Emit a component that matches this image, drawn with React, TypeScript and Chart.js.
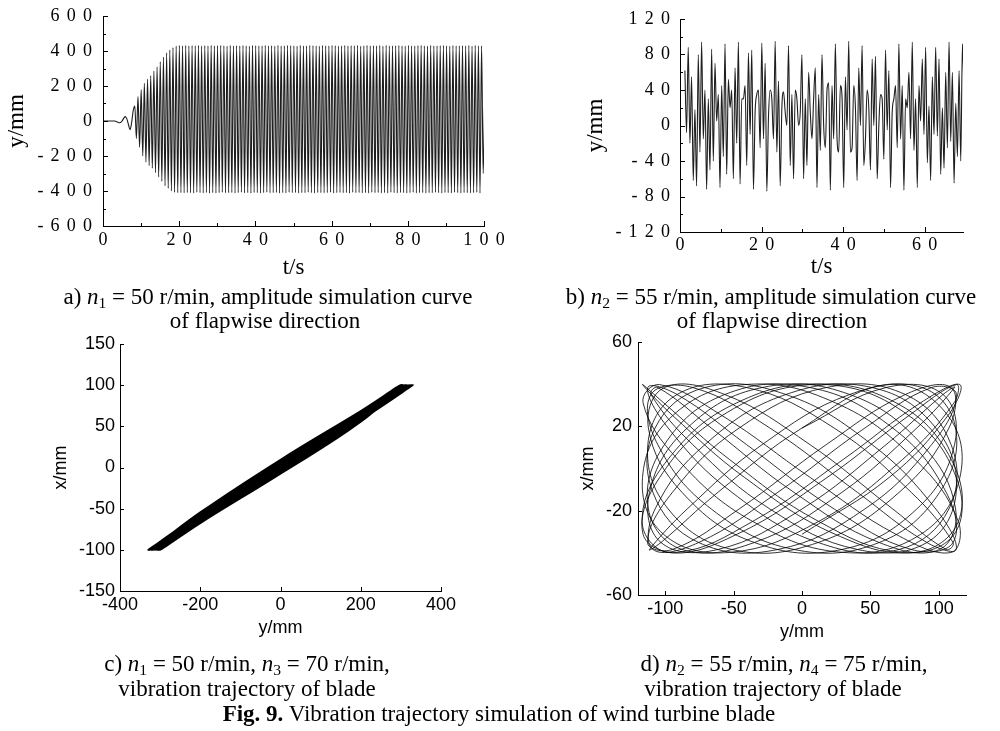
import React, { useEffect, useRef } from 'react';
import { Chart, registerables } from 'chart.js';

Chart.register(...registerables);

// ---------------- data ----------------
// a) flapwise amplitude, n1 = 50 r/min : successive extrema, one every flapATimeStep seconds
const flapATimeStep = 0.4175;
const flapAValues = [
  0, 0, 0, 0, 0, 0, 0, 0, -2, -6,
  -10, -8, 0, 15, 25, 12, -20, -50, -10, 60,
  85, -100, 140, -150, 180, -200, 215, -235, 240, -255,
  260, -270, 285, -295, 310, -320, 340, -345, 365, -370,
  390, -385, 405, -400, 420, -408, 428, -410, 432, -410,
  430, -411, 432, -409, 429, -410, 431, -412, 430, -408,
  433, -410, 428, -411, 431, -409, 430, -413, 432, -410,
  429, -412, 431, -410, 433, -408, 430, -411, 428, -410,
  432, -409, 430, -412, 431, -410, 429, -408, 433, -411,
  430, -410, 428, -413, 432, -409, 431, -410, 430, -412,
  429, -410, 433, -408, 430, -411, 431, -410, 428, -409,
  432, -412, 430, -410, 429, -411, 433, -408, 431, -410,
  430, -409, 428, -412, 432, -410, 430, -411, 429, -408,
  433, -410, 431, -412, 430, -409, 428, -410, 432, -411,
  429, -410, 430, -408, 433, -412, 431, -410, 428, -409,
  430, -411, 432, -410, 429, -413, 431, -408, 430, -410,
  433, -409, 428, -411, 430, -410, 432, -412, 429, -408,
  431, -410, 430, -409, 433, -411, 428, -410, 432, -412,
  430, -408, 429, -410, 431, -411, 433, -409, 430, -410,
  428, -412, 432, -410, 430, -408, 429, -411, 431, -410,
  433, -409, 430, -412, 428, -410, 432, -411, 430, -408,
  429, -410, 431, -412, 433, -409, 430, -410, 428, -411,
  432, -408, 430, -410, 429, -412, 431, -409, 430, -410,
  433, -411, 428, -410, 432, -408, 430, -412, 429, -300,
  150,
];

// b) flapwise amplitude, n2 = 55 r/min
const flapBStart = 1.2;
const flapBTimeStep = 0.41;
const flapBValues = [
  62, -8, 88, -20, 55, -62, 18, -68,
  80, -30, 94, -15, 40, -72, 30, -50,
  86, -40, 70, 5, 35, -70, 45, -35,
  92, -55, 52, 20, 40, -60, 65, -20,
  94, -66, 30, 30, 45, -45, 82, -10,
  85, -72, 15, 35, 40, -25, 93, -15,
  70, -74, 10, 40, 30, -15, 95, -30,
  50, -68, 20, 38, 15, 0, 90, -45,
  35, -60, 40, 30, 0, 15, 80, -60,
  30, -45, 60, 15, -15, 30, 65, -70,
  35, -28, 80, 0, -25, 40, 48, -73,
  45, -15, 92, -15, -30, 45, 32, -70,
  55, -5, 95, -30, -25, 45, 20, -62,
  65, 0, 90, -45, -15, 40, 20, -50,
  75, 0, 78, -60, 0, 35, 30, -38,
  85, -5, 62, -70, 15, 30, 45, -25,
  92, -15, 45, -73, 30, 20, 60, -15,
  94, -28, 30, -70, 45, 5, 75, -10,
  88, -42, 22, -62, 55, -10, 88, -12,
  75, -55, 20, -48, 60, -25, 94, -18,
  60, -65, 25, -35, 62, -40, 92, 35,
];

// c) trajectory n1 = 50, n3 = 70 : horizontal (y/mm) and vertical (x/mm)
const trajCHoriz = [
  -324,
  -200, 0, 200, 302, 200, 0, -200, -302,
  -200, 0, 200, 310, 200, 0, -200, -308,
  -200, 0, 200, 304, 200, 0, -200, -304,
  -200, 0, 200, 318, 200, 0, -200, -316,
  -200, 0, 200, 306, 200, 0, -200, -306,
  -200, 0, 200, 314, 200, 0, -200, -312,
  -200, 0, 200, 300, 200, 0, -200, -300,
  -200, 0, 200, 322, 200, 0, -200, -326,
  -200, 0, 200, 326, 200, 0, -200, -320,
  -200, 0, 200, 312, 200, 0, -200, -330,
  -200, 0, 200, 328, 200, 0, -200, -322,
  -200, 0, 200, 330, 200, 0, -200, -328,
];
const trajCVert = [
  -100,
  -54.4, 9.6, 68.7, 100, 55.7, -7.1, -67.3, -100,
  -57.5, 5.5, 65.5, 100, 59.2, -2.6, -63.8, -100,
  -55.4, 8.2, 67.6, 100, 56.8, -5.8, -66.3, -100,
  -60.3, 1.9, 62.7, 100, 61.3, 0.1, -61.7, -100,
  -56.5, 6.9, 66.6, 100, 57.8, -4.4, -65.2, -100,
  -58.9, 3.7, 64.1, 100, 60.3, -1.3, -62.8, -100,
  -54.7, 9.1, 68.3, 100, 55.4, -7.6, -67.7, -100,
  -61, 1, 62, 100, 58.5, -3.5, -64.5, -100,
  -56.1, 7.3, 66.9, 100, 59.9, -1.7, -63.1, -100,
  -58.2, 4.6, 64.8, 100, 56.4, -6.2, -66.6, -100,
  -59.6, 2.8, 63.4, 100, 57.5, -4.9, -65.6, -100,
  -55, 8.7, 68, 100, 61.7, 0.6, -61.4, -100,
];

// d) trajectory n2 = 55, n4 = 75 : sampled points along the curve
const trajDHoriz = [
  0, 61.5, 103.2, 111.6, 84.0, 29.2, -34.9, -87.8, -112.4, -100.7,
  -56.5, 5.9, 66.4, 105.5, 110.5, 79.9, 23.5, -40.5, -91.4, -112.8,
  -97.9, -51.3, 11.8, 71.1, 107.5, 109.1, 75.6, 17.7, -46.0, -94.8,
  -113, -94.8, -46.0, 17.7, 75.6, 109.1, 107.5, 71.1, 11.8, -51.3,
  -97.9, -112.8, -91.4, -40.5, 23.5, 79.9, 110.5, 105.5, 66.4, 5.9,
  -56.5, -100.7, -112.4, -87.8, -34.9, 29.2, 84.0, 111.6, 103.2, 61.5,
  0, -61.5, -103.2, -111.6, -84.0, -29.2, 34.9, 87.8, 112.4, 100.7,
  56.5, -5.9, -66.4, -105.5, -110.5, -79.9, -23.5, 40.5, 91.4, 112.8,
  97.9, 51.3, -11.8, -71.1, -107.5, -109.1, -75.6, -17.7, 46.0, 94.8,
  113, 94.8, 46.0, -17.7, -75.6, -109.1, -107.5, -71.1, -11.8, 51.3,
  97.9, 112.8, 91.4, 40.5, -23.5, -79.9, -110.5, -105.5, -66.4, -5.9,
  56.5, 100.7, 112.4, 87.8, 34.9, -29.2, -84.0, -111.6, -103.2, -61.5,
  0,
  63.7, 106.8, 115.5, 86.9, 30.2, -36.1, -90.9, -116.3, -104.2, -58.5,
  6.1, 68.7, 109.2, 114.4, 82.7, 24.3, -41.9, -94.6, -116.7, -101.3,
  -53.1, 12.2, 73.6, 111.3, 112.9, 78.2, 18.3, -47.6, -98.1, -117.0,
  -98.1, -47.6, 18.3, 78.2, 112.9, 111.3, 73.6, 12.2, -53.1, -101.3,
  -116.7, -94.6, -41.9, 24.3, 82.7, 114.4, 109.2, 68.7, 6.1, -58.5,
  -104.2, -116.3, -90.9, -36.1, 30.2, 86.9, 115.5, 106.8, 63.7, 0,
];
const trajDVert = [
  19.2, 38.4, 35.1, 11.3, -19.2, -38.4, -35.1, -11.3, 19.2, 38.4,
  35.1, 11.3, -19.2, -38.4, -35.1, -11.3, 19.2, 38.4, 35.1, 11.3,
  -19.2, -38.4, -35.1, -11.3, 19.2, 38.4, 35.1, 11.3, -19.2, -38.4,
  -35.1, -11.3, 19.2, 38.4, 35.1, 11.3, -19.2, -38.4, -35.1, -11.3,
  19.2, 38.4, 35.1, 11.3, -19.2, -38.4, -35.1, -11.3, 19.2, 38.4,
  35.1, 11.3, -19.2, -38.4, -35.1, -11.3, 19.2, 38.4, 35.1, 11.3,
  -19.2, -38.4, -35.1, -11.3, 19.2, 38.4, 35.1, 11.3, -19.2, -38.4,
  -35.1, -11.3, 19.2, 38.4, 35.1, 11.3, -19.2, -38.4, -35.1, -11.3,
  19.2, 38.4, 35.1, 11.3, -19.2, -38.4, -35.1, -11.3, 19.2, 38.4,
  35.1, 11.3, -19.2, -38.4, -35.1, -11.3, 19.2, 38.4, 35.1, 11.3,
  -19.2, -38.4, -35.1, -11.3, 19.2, 38.4, 35.1, 11.3, -19.2, -38.4,
  -35.1, -11.3, 19.2, 38.4, 35.1, 11.3, -19.2, -38.4, -35.1, -11.3,
  19.2,
  39.8, 25.1, -4.3, -31.2, -39.8, -25.1, 4.3, 31.2, 39.8, 25.1,
  -4.3, -31.2, -39.8, -25.1, 4.3, 31.2, 39.8, 25.1, -4.3, -31.2,
  -39.8, -25.1, 4.3, 31.2, 39.8, 25.1, -4.3, -31.2, -39.8, -25.1,
  4.3, 31.2, 39.8, 25.1, -4.3, -31.2, -39.8, -25.1, 4.3, 31.2,
  39.8, 25.1, -4.3, -31.2, -39.8, -25.1, 4.3, 31.2, 39.8, 25.1,
  -4.3, -31.2, -39.8, -25.1, 4.3, 31.2, 39.8, 25.1, -4.3, -31.2,
];

// tick labels / tick marks
const aXTicks = [0, 20, 40, 60, 80, 100];
const aXMinor = [10, 30, 50, 70, 90];
const aYTicks = [-600, -400, -200, 0, 200, 400, 600];
const aYMinor = [-500, -300, -100, 100, 300, 500];
const bXTicks = [0, 20, 40, 60];
const bXMinor = [10, 30, 50];
const bYTicks = [-120, -80, -40, 0, 40, 80, 120];
const bYMinor = [-100, -60, -20, 20, 60, 100];
const cXTicks = [-400, -200, 0, 200, 400];
const cYTicks = [-150, -100, -50, 0, 50, 100, 150];
const dXTicks = [-100, -50, 0, 50, 100];
const dYTicks = [-60, -20, 20, 60];

// ---------------- helpers ----------------
const SERIF = '"Liberation Serif", "Times New Roman", serif';
const SANS = '"Liberation Sans", Arial, sans-serif';

const spaced = (v: number) => String(v).split('').join('\u2009\u2009');
const plain = (v: number) => String(v);

const inwardTicks = {
  id: 'inwardTicks',
  afterDraw(chart: any, _args: any, opts: any) {
    const { ctx, chartArea } = chart;
    const xs = chart.scales.x;
    const ys = chart.scales.y;
    ctx.save();
    ctx.strokeStyle = '#000';
    ctx.lineWidth = 1;
    ctx.beginPath();
    const bottom = Math.round(chartArea.bottom);
    const left = Math.round(chartArea.left);
    const xMarks = (vals: number[], len: number) =>
      vals.forEach((v) => {
        const p = Math.round(xs.getPixelForValue(v)) + 0.5;
        ctx.moveTo(p, bottom);
        ctx.lineTo(p, bottom - len);
      });
    const yMarks = (vals: number[], len: number) =>
      vals.forEach((v) => {
        const p = Math.round(ys.getPixelForValue(v)) + 0.5;
        ctx.moveTo(left, p);
        ctx.lineTo(left + len, p);
      });
    xMarks(opts.xMajor || [], opts.majorLen);
    xMarks(opts.xMinor || [], opts.minorLen);
    yMarks(opts.yMajor || [], opts.majorLen);
    yMarks(opts.yMinor || [], opts.minorLen);
    ctx.stroke();
    ctx.restore();
  },
};

function axis(o: {
  horizontal: boolean;
  min: number;
  max: number;
  ticks: number[];
  size: number;
  tickPad: number;
  fmt: (v: number) => string;
  tickFont: any;
  title: string;
  titleFont: any;
  titlePad: any;
}) {
  return {
    type: 'linear',
    position: o.horizontal ? 'bottom' : 'left',
    min: o.min,
    max: o.max,
    grid: { display: false, drawTicks: false },
    border: { display: true, color: '#000', width: 1 },
    ticks: {
      autoSkip: false,
      maxRotation: 0,
      minRotation: 0,
      padding: o.tickPad,
      color: '#000',
      font: o.tickFont,
      callback: (v: any) => o.fmt(Number(v)),
    },
    title: { display: true, text: o.title, color: '#000', font: o.titleFont, padding: o.titlePad },
    afterBuildTicks: (s: any) => {
      s.ticks = o.ticks.map((v) => ({ value: v }));
    },
    afterFit: (s: any) => {
      if (o.horizontal) s.height = o.size;
      else s.width = o.size;
      s.paddingLeft = 0;
      s.paddingRight = 0;
      s.paddingTop = 0;
      s.paddingBottom = 0;
    },
  };
}

function baseOptions(padding: any, x: any, y: any, ticksOpts: any) {
  return {
    responsive: false,
    animation: false,
    events: [],
    layout: { padding },
    plugins: { legend: { display: false }, tooltip: { enabled: false }, inwardTicks: ticksOpts },
    scales: { x, y },
  };
}

const serifTick = { family: SERIF, size: 18, lineHeight: 1 };
const serifTitle = { family: SERIF, size: 23, lineHeight: 1 };
const sansTick = { family: SANS, size: 18, lineHeight: 1 };
const sansTitle = { family: SANS, size: 18, lineHeight: 1 };

function configA() {
  return {
    type: 'line',
    data: {
      datasets: [
        {
          data: flapAValues.map((v, i) => ({ x: i * flapATimeStep, y: v })),
          borderColor: '#1e1e1e',
          borderWidth: 1.1,
          pointRadius: 0,
          cubicInterpolationMode: 'monotone',
          fill: false,
        },
      ],
    },
    options: baseOptions(
      { left: 0, top: 16, right: 516, bottom: 445 },
      axis({ horizontal: true, min: 0, max: 100, ticks: aXTicks, size: 60, tickPad: 5, fmt: spaced, tickFont: serifTick, title: 't/s', titleFont: serifTitle, titlePad: { top: 0, bottom: 6.5 } }),
      axis({ horizontal: false, min: -600, max: 600, ticks: aYTicks, size: 103, tickPad: 11, fmt: spaced, tickFont: serifTick, title: 'y/mm', titleFont: serifTitle, titlePad: { top: 5.5, bottom: 0 } }),
      { xMajor: aXTicks, xMinor: aXMinor, yMajor: aYTicks, yMinor: aYMinor, majorLen: 5, minorLen: 3 }
    ),
    plugins: [inwardTicks],
  };
}

function configB() {
  return {
    type: 'line',
    data: {
      datasets: [
        {
          data: flapBValues.map((v, i) => ({ x: flapBStart + i * flapBTimeStep, y: v })),
          borderColor: '#1e1e1e',
          borderWidth: 1.1,
          pointRadius: 0,
          cubicInterpolationMode: 'monotone',
          fill: false,
        },
      ],
    },
    options: baseOptions(
      { left: 573, top: 19, right: 37, bottom: 439 },
      axis({ horizontal: true, min: 0, max: 69.4, ticks: bXTicks, size: 60, tickPad: 4, fmt: spaced, tickFont: serifTick, title: 't/s', titleFont: serifTitle, titlePad: { top: 0, bottom: 13.5 } }),
      axis({ horizontal: false, min: -120, max: 120, ticks: bYTicks, size: 107, tickPad: 10, fmt: spaced, tickFont: serifTick, title: 'y/mm', titleFont: serifTitle, titlePad: { top: 11.5, bottom: 0 } }),
      { xMajor: bXTicks, xMinor: bXMinor, yMajor: bYTicks, yMinor: bYMinor, majorLen: 5, minorLen: 3 }
    ),
    plugins: [inwardTicks],
  };
}

function configC() {
  return {
    type: 'line',
    data: {
      datasets: [
        {
          data: trajCHoriz.map((v, i) => ({ x: v, y: trajCVert[i] })),
          borderColor: '#000',
          borderWidth: 1.7,
          pointRadius: 0,
          tension: 0.4,
          fill: false,
        },
      ],
    },
    options: baseOptions(
      { left: 40, top: 344, right: 559, bottom: 90 },
      axis({ horizontal: true, min: -400, max: 400, ticks: cXTicks, size: 50, tickPad: 5, fmt: plain, tickFont: sansTick, title: 'y/mm', titleFont: sansTitle, titlePad: { top: 0, bottom: 4 } }),
      axis({ horizontal: false, min: -150, max: 150, ticks: cYTicks, size: 80, tickPad: 5, fmt: plain, tickFont: sansTick, title: 'x/mm', titleFont: sansTitle, titlePad: { top: 12, bottom: 0 } }),
      { xMajor: cXTicks, yMajor: cYTicks, majorLen: 4, minorLen: 2 }
    ),
    plugins: [inwardTicks],
  };
}

function configD() {
  return {
    type: 'line',
    data: {
      datasets: [
        {
          data: trajDHoriz.map((v, i) => ({ x: v, y: trajDVert[i] })),
          borderColor: '#000',
          borderWidth: 0.8,
          pointRadius: 0,
          tension: 0.4,
          fill: false,
        },
      ],
    },
    options: baseOptions(
      { left: 560, top: 342, right: 34, bottom: 86 },
      axis({ horizontal: true, min: -120, max: 120, ticks: dXTicks, size: 50, tickPad: 5.5, fmt: plain, tickFont: sansTick, title: 'y/mm', titleFont: sansTitle, titlePad: { top: 0, bottom: 4 } }),
      axis({ horizontal: false, min: -60, max: 60, ticks: dYTicks, size: 78, tickPad: 6, fmt: plain, tickFont: sansTick, title: 'x/mm', titleFont: sansTitle, titlePad: { top: 19, bottom: 0 } }),
      { xMajor: dXTicks, yMajor: dYTicks, majorLen: 4, minorLen: 2 }
    ),
    plugins: [inwardTicks],
  };
}

function ChartLayer({ make }: { make: () => any }) {
  const ref = useRef<HTMLCanvasElement | null>(null);
  useEffect(() => {
    if (!ref.current) return;
    const chart = new Chart(ref.current, make());
    return () => chart.destroy();
  }, [make]);
  return (
    <canvas
      ref={ref}
      width={1000}
      height={731}
      style={{ position: 'absolute', left: 0, top: 0, width: 1000, height: 731 }}
    />
  );
}

const N = ({ s }: { s: string }) => (
  <span>
    <i>n</i>
    <sub style={{ fontSize: '0.68em', verticalAlign: '-0.28em', lineHeight: 0 }}>{s}</sub>
  </span>
);

function Line({ cx, cy, children }: { cx: number; cy: number; children: any }) {
  return (
    <div
      style={{
        position: 'absolute',
        left: cx - 300,
        width: 600,
        top: cy - 13,
        height: 26,
        lineHeight: '26px',
        textAlign: 'center',
        whiteSpace: 'nowrap',
      }}
    >
      {children}
    </div>
  );
}

export default function App() {
  return (
    <div
      style={{
        position: 'absolute',
        left: 0,
        top: 0,
        width: 1000,
        height: 731,
        background: '#fff',
        overflow: 'hidden',
        fontFamily: SERIF,
        fontSize: 23,
        color: '#000',
      }}
    >
      <ChartLayer make={configA} />
      <ChartLayer make={configB} />
      <ChartLayer make={configC} />
      <ChartLayer make={configD} />

      <Line cx={268} cy={297}>
        a) <N s="1" /> = 50 r/min, amplitude simulation curve
      </Line>
      <Line cx={265} cy={321}>of flapwise direction</Line>
      <Line cx={771} cy={297}>
        b) <N s="2" /> = 55 r/min, amplitude simulation curve
      </Line>
      <Line cx={772} cy={321}>of flapwise direction</Line>

      <Line cx={247} cy={664}>
        c) <N s="1" /> = 50 r/min, <N s="3" /> = 70 r/min,
      </Line>
      <Line cx={247} cy={689}>vibration trajectory of blade</Line>
      <Line cx={784} cy={664}>
        d) <N s="2" /> = 55 r/min, <N s="4" /> = 75 r/min,
      </Line>
      <Line cx={773} cy={689}>vibration trajectory of blade</Line>

      <Line cx={499} cy={714}>
        <b>Fig. 9.</b> Vibration trajectory simulation of wind turbine blade
      </Line>
    </div>
  );
}
